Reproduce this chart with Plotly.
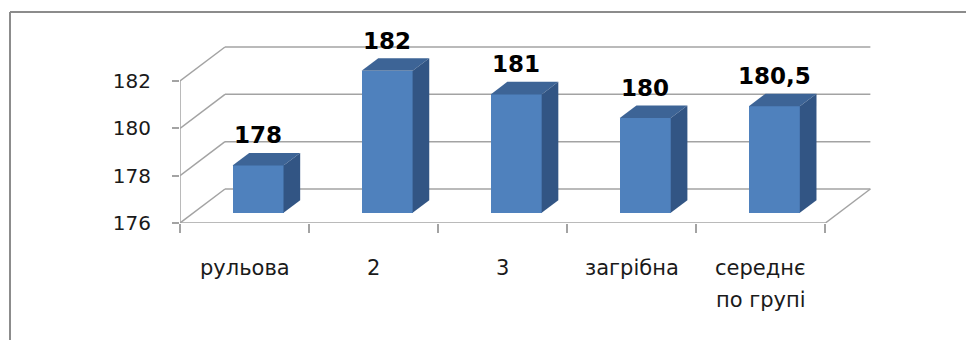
import plotly.graph_objects as go

# ---- data ----
categories = ["рульова", "2", "3", "загрібна", "середнє\nпо групі"]
values = [178, 182, 181, 180, 180.5]
y_ticks = [176, 178, 180, 182]

# ---- figure geometry (pixels) ----
FIG_W, FIG_H = 966, 340
M_L, M_R, M_T, M_B = 180, 89, 20, 117
PLOT_W = FIG_W - M_L - M_R
PLOT_H = FIG_H - M_T - M_B
X_MAX = 5.4
PX_PER_UNIT_Y = 23.67
Y_MIN = y_ticks[0]
Y_MAX = Y_MIN + PLOT_H / PX_PER_UNIT_Y

# oblique depth: full depth offset in data units
DX = 45 / (PLOT_W / X_MAX)
DY = 34 / PX_PER_UNIT_Y
D0 = 0.30      # depth at which the bar front faces sit
DD = 0.37      # depth of each bar
BW = 0.395     # bar width in category units

FRONT = "#4F81BD"
TOP = "#3D6496"
SIDE = "#325584"
GRID = "#A3A3A3"
FONT = "DejaVu Sans"

n = len(categories)
fig = go.Figure()

# front faces as bars
xc = [i + 0.5 + D0 * DX for i in range(n)]
base = Y_MIN + D0 * DY
fig.add_trace(go.Bar(
    x=xc, y=[v - Y_MIN for v in values], base=base, width=BW,
    marker=dict(color=FRONT, line=dict(width=0)), hoverinfo="skip",
    showlegend=False,
))

# top and side faces
for x, v in zip(xc, values):
    x0, x1 = x - BW / 2, x + BW / 2
    y0, y1 = base, v + D0 * DY
    ox, oy = DD * DX, DD * DY
    fig.add_trace(go.Scatter(
        x=[x0, x1, x1 + ox, x0 + ox, x0], y=[y1, y1, y1 + oy, y1 + oy, y1],
        fill="toself", fillcolor=TOP, mode="lines", line=dict(width=0),
        hoverinfo="skip", showlegend=False))
    fig.add_trace(go.Scatter(
        x=[x1, x1 + ox, x1 + ox, x1, x1], y=[y0, y0 + oy, y1 + oy, y1, y0],
        fill="toself", fillcolor=SIDE, mode="lines", line=dict(width=0),
        hoverinfo="skip", showlegend=False))

# walls, floor and gridlines
shapes = []
def seg(xa, ya, xb, yb, color=GRID, width=1.5):
    shapes.append(dict(type="line", xref="x", yref="y", x0=xa, y0=ya, x1=xb, y1=yb,
                       line=dict(color=color, width=width), layer="below"))

for t in y_ticks:
    seg(0, t, DX, t + DY)
    seg(DX, t + DY, n + DX, t + DY)
seg(0, Y_MIN, n, Y_MIN)
seg(n, Y_MIN, n + DX, Y_MIN + DY)
seg(0, Y_MIN, 0, y_ticks[-1])

# outer frame
def px_x(p):
    return (p - M_L) / PLOT_W
def px_y(p):
    return (FIG_H - M_B - p) / PLOT_H
frame = dict(color="#8C8C8C", width=2)
shapes.append(dict(type="line", xref="paper", yref="paper",
                   x0=px_x(10), y0=px_y(12), x1=px_x(966), y1=px_y(12), line=frame))
shapes.append(dict(type="line", xref="paper", yref="paper",
                   x0=px_x(10), y0=px_y(12), x1=px_x(10), y1=px_y(340), line=frame))

# annotations: value labels and category labels
annotations = []
for x, v in zip(xc, values):
    annotations.append(dict(
        x=x, y=v + D0 * DY, xref="x", yref="y", text=f"{v:g}".replace(".", ","),
        showarrow=False, yanchor="middle", yshift=30,
        font=dict(family=FONT, size=23, color="#000000", weight="bold")))
for i, cat in enumerate(categories):
    for k, line in enumerate(cat.split("\n")):
        annotations.append(dict(
            x=i + 0.5, y=Y_MIN, xref="x", yref="y", text=line, showarrow=False,
            yanchor="middle", yshift=-45 - 32 * k,
            font=dict(family=FONT, size=21, color="#1a1a1a")))

fig.update_layout(
    width=FIG_W, height=FIG_H,
    margin=dict(l=M_L, r=M_R, t=M_T, b=M_B, pad=0),
    paper_bgcolor="white", plot_bgcolor="white",
    shapes=shapes, annotations=annotations,
    bargap=0,
    xaxis=dict(range=[0, X_MAX], showgrid=False, zeroline=False, showline=False,
               tickmode="array", tickvals=list(range(n + 1)), ticktext=[""] * (n + 1),
               ticks="outside", ticklen=9, tickcolor=GRID, tickwidth=1.5),
    yaxis=dict(range=[Y_MIN, Y_MAX], showgrid=False, zeroline=False, showline=False,
               tickmode="array", tickvals=y_ticks, ticktext=[str(t) for t in y_ticks],
               ticks="outside", ticklen=7, tickcolor=GRID, tickwidth=1.5,
               ticklabelstandoff=17,
               tickfont=dict(family=FONT, size=20, color="#1a1a1a")),
)

fig.write_html("out.html")
